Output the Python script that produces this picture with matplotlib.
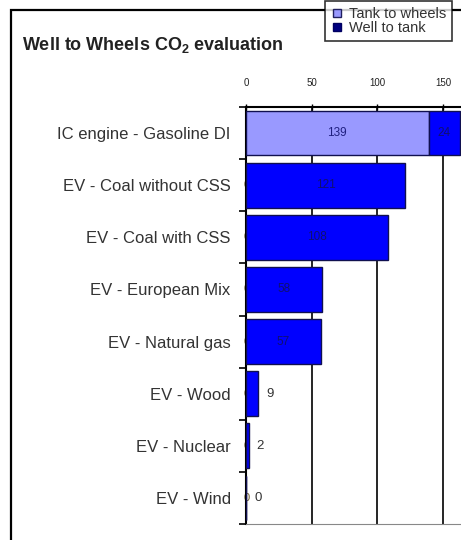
import matplotlib.pyplot as plt
from matplotlib.patches import Rectangle
from matplotlib.lines import Line2D
import numpy as np

plt.rcParams['font.family'] = ['Liberation Sans', 'DejaVu Sans']
plt.rcParams['mathtext.fontset'] = 'custom'
plt.rcParams['mathtext.rm'] = 'Liberation Sans'
plt.rcParams['mathtext.bf'] = 'Liberation Sans:bold'

# data (g CO2 / km)
categories = ['IC engine - Gasoline DI', 'EV - Coal without CSS', 'EV - Coal with CSS',
              'EV - European Mix', 'EV - Natural gas', 'EV - Wood', 'EV - Nuclear', 'EV - Wind']
tank_to_wheels = [139, 0, 0, 0, 0, 0, 0, 0]
well_to_tank = [24, 121, 108, 58, 57, 9, 2, 0]
x_ticks = [0, 50, 100, 150]

W, H = 461, 540
fig = plt.figure(figsize=(W / 100, H / 100), dpi=100)

# outer chart frame (runs off the right and bottom of the picture)
fig.patches.append(Rectangle((11 / W, -0.05), 1.2, 1 - 10 / H + 0.05, transform=fig.transFigure,
                             fill=False, edgecolor='black', linewidth=1.6, zorder=0))

ax = fig.add_axes([246 / W, 1 - 524 / H, 1 - 246 / W, (524 - 107) / H])
y = np.arange(len(categories))
h = 0.86

ttw_col = '#9999ff'
wtt_col = '#0000ff'

# zero-value tank-to-wheels labels sit behind the blue bars
for yi, v in zip(y, tank_to_wheels):
    if v == 0:
        ax.text(0.4, yi, '0', ha='center', va='center', fontsize=8, color='#6b5a2a', zorder=1)

ax.barh(y, tank_to_wheels, height=h, color=ttw_col, edgecolor='#101050', linewidth=1, zorder=3)
ax.barh(y, well_to_tank, left=tank_to_wheels, height=h, color=wtt_col,
        edgecolor='#101050', linewidth=1, zorder=3)

for yi, t, w in zip(y, tank_to_wheels, well_to_tank):
    if t > 0:
        ax.text(t / 2, yi, str(t), ha='center', va='center', fontsize=8.5, color='#202080', zorder=4)
    if w >= 20:
        ax.text(t + w / 2, yi, str(w), ha='center', va='center', fontsize=8.5, color='#101070', zorder=4)
    else:
        ax.text(t + w + 9, yi, str(w), ha='center', va='center', fontsize=9.5, color='#333333', zorder=4)

ax.set_xlim(0, (W - 246) / 1.313)
ax.set_ylim(len(categories) - 0.5, -0.5)

ax.set_xticks(x_ticks)
ax.set_xticklabels([str(v) for v in x_ticks], fontsize=7, color='#222222')
ax.xaxis.tick_top()
ax.tick_params(axis='x', direction='inout', length=5, pad=11, width=1)
ax.grid(axis='x', color='black', linewidth=1.2, zorder=0)

ax.set_yticks(y)
ax.set_yticklabels(categories, fontsize=12, color='#333333')
ax.set_yticks(np.arange(len(categories) + 1) - 0.5, minor=True)
ax.tick_params(axis='y', which='major', length=0, pad=11)
ax.tick_params(axis='y', which='minor', length=5, width=1.2, direction='out')

for s in ['left', 'top']:
    ax.spines[s].set_linewidth(1.5)
ax.spines['right'].set_visible(False)
ax.spines['bottom'].set_color('#888888')
ax.set_axisbelow(True)

fig.text(22 / W, 1 - 45 / H, 'Well to Wheels CO$_{\\mathbf{2}}$ evaluation', fontsize=13,
         fontweight='bold', color='#222222', ha='left', va='center')

handles = [Line2D([], [], marker='s', linestyle='', markersize=5.5, markerfacecolor=ttw_col,
                  markeredgecolor='#202060'),
           Line2D([], [], marker='s', linestyle='', markersize=5.5, markerfacecolor='#000080',
                  markeredgecolor='#000060')]
leg = fig.legend(handles, ['Tank to wheels', 'Well to tank'], loc='upper left',
                 bbox_to_anchor=(325 / W, 1 - 1 / H), fontsize=10.5, frameon=True, fancybox=False,
                 edgecolor='black', handlelength=0.8, handletextpad=0.45, borderpad=0.4,
                 labelspacing=0.0, borderaxespad=0)
leg.get_frame().set_linewidth(1.2)
for t in leg.get_texts():
    t.set_color('#333333')

fig.savefig('out.png', dpi=100)
